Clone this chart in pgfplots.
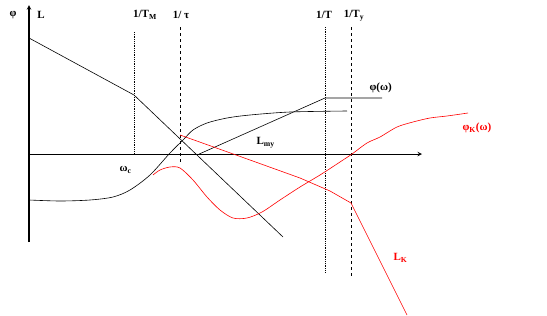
\documentclass[border=0pt]{standalone}
\usepackage{pgfplots}
\pgfplotsset{compat=1.18}
\usepackage{fontspec}
\setmainfont{Liberation Serif}
\begin{document}
\begin{tikzpicture}
\begin{axis}[hide axis, scale only axis, width=547pt, height=316pt,
  xmin=0, xmax=547, ymin=0, ymax=316, y dir=reverse, clip=false]
% invisible frame to fix the bounding box
\addplot[draw=none] coordinates {(0,0) (547,0) (547,316) (0,316)};
% axes
\addplot[black, line width=1.1pt, -stealth] coordinates {(29,242) (29,5)};
\addplot[black, line width=1pt, -stealth] coordinates {(29,154) (422,154)};
% vertical markers
\addplot[black, densely dotted, line width=0.8pt] coordinates {(134,32) (134,154)};
\addplot[black, dashed, line width=0.8pt] coordinates {(180,27) (180,163)};
\addplot[black, densely dotted, line width=0.8pt] coordinates {(325,27) (325,273)};
\addplot[black, dashed, line width=0.8pt] coordinates {(351,27) (351,276)};
% L
\addplot[black, line width=0.6pt] coordinates {(29,38) (134,95) (283,237)};
% L_my
\addplot[black, line width=0.6pt] coordinates {(197,155) (325,98) (382,98)};
% phi(omega)
\addplot[black, line width=0.6pt, smooth] coordinates {(29,200) (60,201) (90,200) (113,197) (130,190) (150,175) (170,153) (183,140) (193,130) (207,123) (227,118) (250,115) (290,112) (347,111)};
% L_K
\addplot[red, line width=0.6pt] coordinates {(180,135) (250,160) (300,178) (330,191) (351,203) (407,315)};
% phi_K
\addplot[red, line width=0.6pt, smooth] coordinates {(153,175) (160,170) (170,167) (180,168) (193,180) (207,197) (220,210) (233,218) (247,218) (262,212) (280,200) (300,187) (320,175) (340,162) (352,154) (367,143) (380,137) (397,127) (413,122) (430,118) (447,116) (468,113)};
% labels
\node[font=\bfseries\fontsize{11}{12}\selectfont] at (axis cs:13,15) {φ};
\node[font=\bfseries\fontsize{11}{12}\selectfont] at (axis cs:41,15) {L};
\node[font=\bfseries\fontsize{11}{12}\selectfont] at (axis cs:145,15) {1/T\textsubscript{M}};
\node[font=\bfseries\fontsize{11}{12}\selectfont] at (axis cs:181,15) {1/ τ};
\node[font=\bfseries\fontsize{11}{12}\selectfont] at (axis cs:324,15) {1/T};
\node[font=\bfseries\fontsize{11}{12}\selectfont] at (axis cs:354,16) {1/T\textsubscript{y}};
\node[font=\bfseries\fontsize{11}{12}\selectfont, anchor=west] at (axis cs:366,88) {φ(ω)};
\node[font=\bfseries\fontsize{11}{12}\selectfont, anchor=west, red] at (axis cs:459,128) {φ\textsubscript{K}(ω)};
\node[font=\bfseries\fontsize{11}{12}\selectfont, anchor=west] at (axis cs:253,143) {L\textsubscript{my}};
\node[font=\bfseries\fontsize{11}{12}\selectfont, anchor=west] at (axis cs:116,170) {ω\textsubscript{c}};
\node[font=\bfseries\fontsize{11}{12}\selectfont, anchor=west, red] at (axis cs:390,258) {L\textsubscript{K}};
\end{axis}
\end{tikzpicture}
\end{document}
